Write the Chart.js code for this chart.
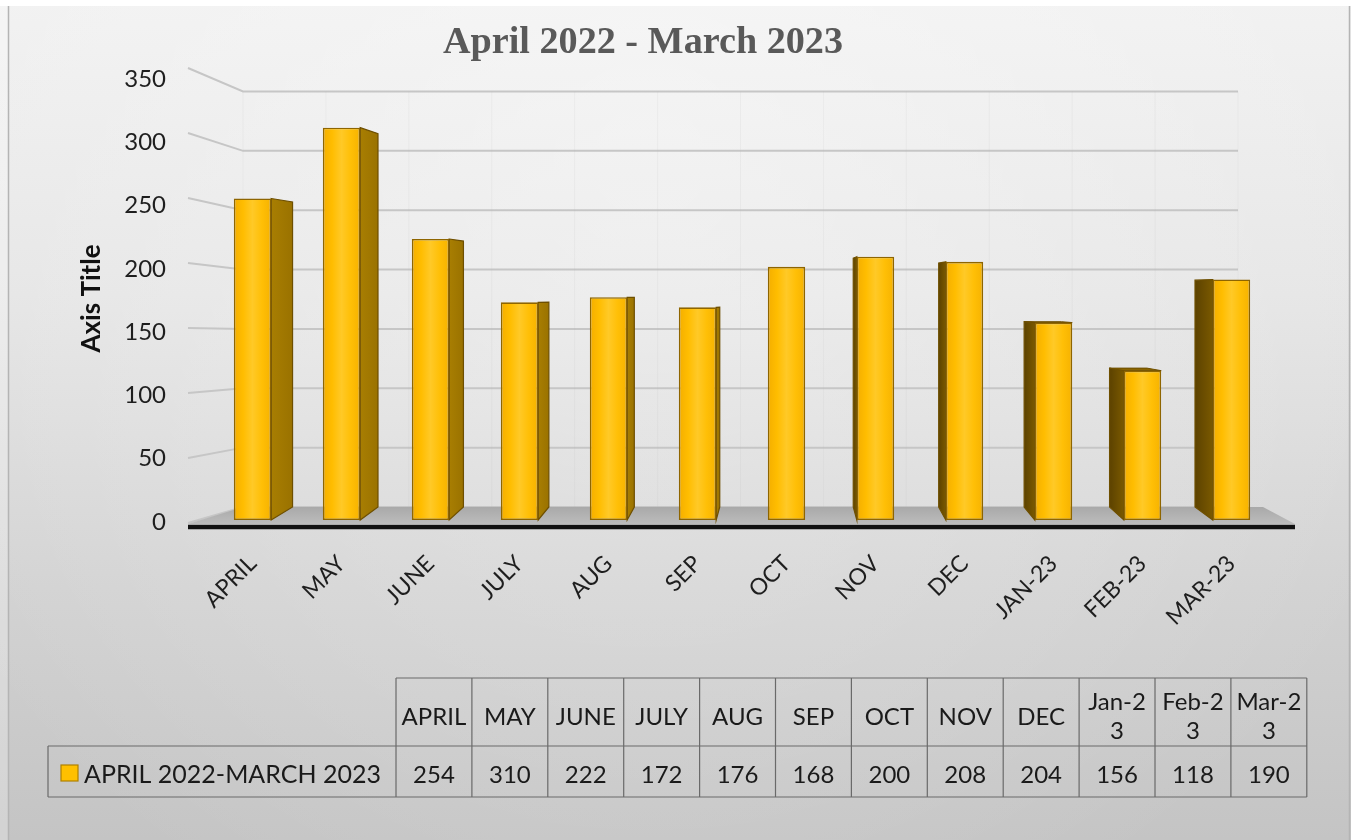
<!DOCTYPE html>
<html><head><meta charset="utf-8">
<script src="https://cdn.jsdelivr.net/npm/chart.js@4.4.1/dist/chart.umd.min.js"></script>
<style>html,body{margin:0;padding:0;background:#fff;overflow:hidden}#wrap{width:1353px;height:840px}</style>
</head><body><div id="wrap"><canvas id="c" width="1353" height="840"></canvas></div>
<script>
// ---- data ----
const categories = ['APRIL','MAY','JUNE','JULY','AUG','SEP','OCT','NOV','DEC','JAN-23','FEB-23','MAR-23'];
const tableHeaders = ['APRIL','MAY','JUNE','JULY','AUG','SEP','OCT','NOV','DEC','Jan-2\n3','Feb-2\n3','Mar-2\n3'];
const values = [254,310,222,172,176,168,200,208,204,156,118,190];
const seriesName = 'APRIL 2022-MARCH 2023';
const titleText = 'April 2022 - March 2023';
const yAxisTitle = 'Axis Title';
const yMin = 0, yMax = 350, yStep = 50;

const FONT = 'Lato, "Open Sans", "Noto Sans", sans-serif';

function frontGradient(ctx2d, cx, hw){
  const g = ctx2d.createLinearGradient(cx-hw,0,cx+hw,0);
  g.addColorStop(0,'#F4AE00');
  g.addColorStop(0.25,'#FFBD00');
  g.addColorStop(0.5,'#FFC927');
  g.addColorStop(0.75,'#FFBF06');
  g.addColorStop(1,'#F6B200');
  return g;
}

const scenePlugin = {
  id:'scene',
  beforeDraw(chart){
    const {ctx, width, height, chartArea:a} = chart;
    const y = chart.scales.y;
    ctx.save();
    // background
    const g = ctx.createLinearGradient(0,0,0,height);
    g.addColorStop(0,'#f1f1f1'); g.addColorStop(0.35,'#e5e5e5');
    g.addColorStop(0.7,'#d2d2d2'); g.addColorStop(1,'#c4c4c4');
    ctx.fillStyle = g; ctx.fillRect(0,0,width,height);
    const r = ctx.createRadialGradient(650,160,40,650,160,850);
    r.addColorStop(0,'rgba(255,255,255,0.35)'); r.addColorStop(1,'rgba(255,255,255,0)');
    ctx.fillStyle = r; ctx.fillRect(0,0,width,height);
    ctx.fillStyle = 'rgba(255,255,255,0.25)'; ctx.fillRect(0,0,8,height);
    ctx.strokeStyle = '#b4b4b4'; ctx.lineWidth = 1.5;
    ctx.beginPath(); ctx.moveTo(8.5,6); ctx.lineTo(8.5,height); ctx.stroke();
    ctx.beginPath(); ctx.moveTo(1349.5,6); ctx.lineTo(1349.5,height); ctx.stroke();
    ctx.fillStyle = '#ffffff'; ctx.fillRect(0,0,width,6); ctx.fillRect(1351,0,2,height);

    // title
    ctx.fillStyle = '#595959';
    ctx.font = 'bold 35px "Liberation Serif", "DejaVu Serif", serif';
    const tw = ctx.measureText(titleText).width;
    const target = 400;
    ctx.save();
    ctx.translate(643, 53);
    ctx.scale(target/tw, 1.1);
    ctx.textAlign = 'center'; ctx.textBaseline = 'alphabetic';
    ctx.fillText(titleText, 0, 0);
    ctx.restore();

    // perspective gridlines (wall)
    const base = y.getPixelForValue(0);
    const lf = a.left - 20, lb = a.left + 35, rb = a.right - 38;
    ctx.strokeStyle = '#c6c6c6'; ctx.lineWidth = 2;
    y.ticks.forEach(t => {
      const py = y.getPixelForValue(t.value);
      const yf = base + 3 - (base - py)*1.027;
      const yb = base - 13 - (base - py)*0.938;
      ctx.beginPath(); ctx.moveTo(lf, yf); ctx.lineTo(lb, yb); ctx.lineTo(rb, yb); ctx.stroke();
    });
    // very faint back-wall verticals
    ctx.strokeStyle = 'rgba(180,180,180,0.12)'; ctx.lineWidth = 1;
    const xs = chart.scales.x;
    const step = xs.getPixelForValue(1)-xs.getPixelForValue(0);
    for (let i=0;i<=categories.length;i++){
      const px = xs.getPixelForValue(i) - step/2;
      const bx = lb + (px - a.left)*(rb-lb)/(a.right-a.left);
      ctx.beginPath(); ctx.moveTo(bx, base-13 - (base - y.getPixelForValue(yMax))*0.938); ctx.lineTo(bx, base-13); ctx.stroke();
    }
    // floor
    const fg = ctx.createLinearGradient(0, base-13, 0, base+4);
    fg.addColorStop(0,'#a9a9a9'); fg.addColorStop(1,'#bcbcbc');
    ctx.fillStyle = fg;
    ctx.beginPath();
    ctx.moveTo(a.left-20, base+4); ctx.lineTo(a.left+35, base-13);
    ctx.lineTo(a.right-13, base-13); ctx.lineTo(a.right+19, base+4); ctx.closePath(); ctx.fill();
    // axis line
    ctx.strokeStyle = '#111'; ctx.lineWidth = 4.5;
    ctx.beginPath(); ctx.moveTo(a.left-20, base+7); ctx.lineTo(a.right+19, base+7); ctx.stroke();
    ctx.restore();
  },
  beforeDatasetsDraw(chart){
    const {ctx} = chart;
    const xs = chart.scales.x, y = chart.scales.y;
    const vpx = xs.getPixelForValue(6);
    const eyeY = y.getPixelForValue(175);
    const meta = chart.getDatasetMeta(0);
    ctx.save();
    meta.data.forEach(el => {
      const hw = el.width/2;
      const top = el.y, base = el.base;
      const dx = (vpx - el.x)*0.04;
      const baseB = base - 13;
      const topB = top + (eyeY - top)*0.035;
      if (Math.abs(dx) < 1) return;
      const ex = dx > 0 ? el.x + hw : el.x - hw;
      ctx.beginPath();
      ctx.moveTo(ex, top); ctx.lineTo(ex+dx, topB); ctx.lineTo(ex+dx, baseB); ctx.lineTo(ex, base); ctx.closePath();
      const sg = ctx.createLinearGradient(ex,0,ex+dx,0);
      if (dx > 0){ sg.addColorStop(0,'#A87E02'); sg.addColorStop(1,'#9A7200'); }
      else { sg.addColorStop(0,'#7A5900'); sg.addColorStop(1,'#5C4200'); }
      ctx.fillStyle = sg; ctx.fill();
      ctx.strokeStyle = '#6E4F00'; ctx.lineWidth = 1.2; ctx.stroke();
      if (topB < top - 0.5){
        ctx.beginPath();
        ctx.moveTo(el.x-hw, top); ctx.lineTo(el.x+hw, top); ctx.lineTo(el.x+hw+dx, topB); ctx.lineTo(el.x-hw+dx, topB); ctx.closePath();
        ctx.fillStyle = '#8A6400'; ctx.fill();
        ctx.strokeStyle = '#6E4F00'; ctx.lineWidth = 1; ctx.stroke();
      }
    });
    ctx.restore();
  },
  afterDraw(chart){
    const {ctx} = chart;
    ctx.save();
    const hTop = 678, mid = 746, bot = 797, left = 48, c0 = 396, cw = 75.9;
    const n = tableHeaders.length, right = c0 + cw*n;
    ctx.strokeStyle = '#6a6a6a'; ctx.lineWidth = 1.2;
    ctx.beginPath();
    ctx.moveTo(c0, hTop); ctx.lineTo(right, hTop);
    ctx.moveTo(left, mid); ctx.lineTo(right, mid);
    ctx.moveTo(left, bot); ctx.lineTo(right, bot);
    ctx.moveTo(left, mid); ctx.lineTo(left, bot);
    for (let i=0;i<=n;i++){ const x = c0 + cw*i; ctx.moveTo(x, hTop); ctx.lineTo(x, bot); }
    ctx.stroke();
    ctx.fillStyle = '#1a1a1a';
    ctx.font = '24px ' + FONT;
    ctx.textAlign = 'center'; ctx.textBaseline = 'middle';
    tableHeaders.forEach((h,i) => {
      const cx = c0 + cw*i + cw/2;
      const lines = h.split('\n');
      if (lines.length === 1) ctx.fillText(h, cx, 717);
      else { ctx.fillText(lines[0], cx, 702); ctx.fillText(lines[1], cx, 731); }
    });
    values.forEach((v,i) => ctx.fillText(String(v), c0 + cw*i + cw/2, 775));
    // legend key
    ctx.fillStyle = '#FFC000'; ctx.fillRect(61,765,17,16);
    ctx.strokeStyle = '#B08000'; ctx.lineWidth = 1.2; ctx.strokeRect(61,765,17,16);
    ctx.fillStyle = '#1a1a1a'; ctx.textAlign = 'left';
    ctx.font = '25px ' + FONT;
    ctx.fillText(seriesName, 84, 775);
    ctx.restore();
  }
};

new Chart(document.getElementById('c'), {
  type:'bar',
  data:{
    labels: categories,
    datasets:[{
      label: seriesName,
      data: values,
      barPercentage: 0.42,
      categoryPercentage: 1,
      borderWidth: 1.6,
      borderColor: '#8E6500',
      borderSkipped: false,
      backgroundColor(c){
        const ch = c.chart; const xs = ch.scales.x;
        if (!xs || !ch.chartArea) return '#FFC000';
        const cx = xs.getPixelForValue(c.dataIndex);
        const hw = xs.width/categories.length*0.42/2;
        return frontGradient(ch.ctx, cx, hw);
      }
    }]
  },
  options:{
    responsive:false, animation:false,
    layout:{padding:{left:74, right:77, top:77, bottom:200}},
    plugins:{legend:{display:false}, tooltip:{enabled:false}, title:{display:false}},
    scales:{
      x:{
        grid:{display:false, drawTicks:false}, border:{display:false},
        ticks:{font:{family:FONT,size:23}, color:'#1e1e1e', minRotation:45, maxRotation:45, autoSkip:false, padding:30},
        afterFit(s){ s.height = 120; }
      },
      y:{
        min:yMin, max:yMax,
        ticks:{stepSize:yStep, font:{family:FONT,size:24}, color:'#1e1e1e', padding:42, labelOffset:2},
        grid:{display:false, drawTicks:false}, border:{display:false},
        title:{display:true, text:yAxisTitle, font:{family:FONT,size:26,weight:'bold'}, color:'#111', padding:2},
        afterFit(s){ s.width = 134; }
      }
    }
  },
  plugins:[scenePlugin]
});
</script></body></html>
